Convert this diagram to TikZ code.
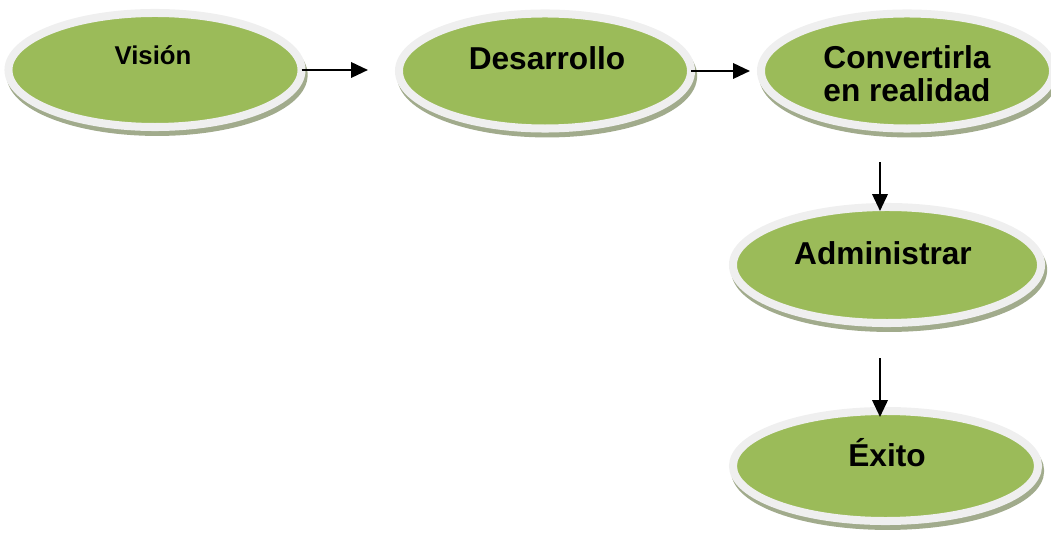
\documentclass[tikz,border=0pt]{standalone}
\usepackage{fontspec}
\setmainfont{Liberation Sans}
\usetikzlibrary{shapes.geometric,shadows,arrows.meta}
\definecolor{verde}{HTML}{9BBB59}
\definecolor{borde}{HTML}{EFEFEF}
\definecolor{sombra}{HTML}{A1AB8C}
\begin{document}
\begin{tikzpicture}[x=0.025cm, y=-0.025cm,
    elipse/.style={ellipse, draw=borde, fill=verde, line width=5.7pt,
                   outer sep=0pt, inner sep=0pt,
                   general shadow={fill=sombra, draw=sombra, line width=5.7pt,
                                   shadow xshift=1.5pt, shadow yshift=-3.5pt}},
    rotulo/.style={font=\bfseries\fontsize{22.5}{23.5}\selectfont,
                   align=center, inner sep=0pt},
    flecha/.style={-{Triangle[length=12pt, width=11pt]}, line width=1.4pt}
]
    \useasboundingbox (0,0) rectangle (1051,536);

    \node[elipse, minimum width=7.325cm, minimum height=2.85cm] (vision) at (155,70) {};
    \node[elipse, minimum width=7.3cm, minimum height=2.875cm] (desarrollo) at (545,71) {};
    \node[elipse, minimum width=7.3cm, minimum height=2.875cm] (convertir) at (907,71) {};
    \node[elipse, minimum width=7.7cm, minimum height=2.9cm] (administrar) at (887,265) {};
    \node[elipse, minimum width=7.625cm, minimum height=2.75cm] (exito) at (885.5,466) {};

    \node[rotulo, font=\bfseries\fontsize{18.3}{20}\selectfont, anchor=base] (tvision) at (153,65) {Visión};
    \node[rotulo, anchor=base] (tdesarrollo) at (547,70) {Desarrollo};
    \node[rotulo, anchor=base] (tconvertir) at (907,102) {Convertirla\\en realidad};
    \node[rotulo, anchor=base] (tadministrar) at (883,265) {Administrar};
    \node[rotulo, anchor=base] (texito) at (887,467) {Éxito};

    \draw[flecha, shorten >=0.775cm] (vision.east) -- (vision.east -| desarrollo.west);
    \draw[flecha, shorten >=0.275cm] (desarrollo.east) -- (desarrollo.east -| convertir.west);
    \draw[flecha, shorten <=0.84cm, shorten >=-0.1cm]
        ([xshift=-0.175cm]administrar.north |- convertir.south) -- ([xshift=-0.175cm]administrar.north);
    \draw[flecha, shorten <=0.875cm, shorten >=-0.15cm]
        ([xshift=-0.175cm]administrar.south) -- ([xshift=-0.175cm]administrar.south |- exito.north);
\end{tikzpicture}
\end{document}
